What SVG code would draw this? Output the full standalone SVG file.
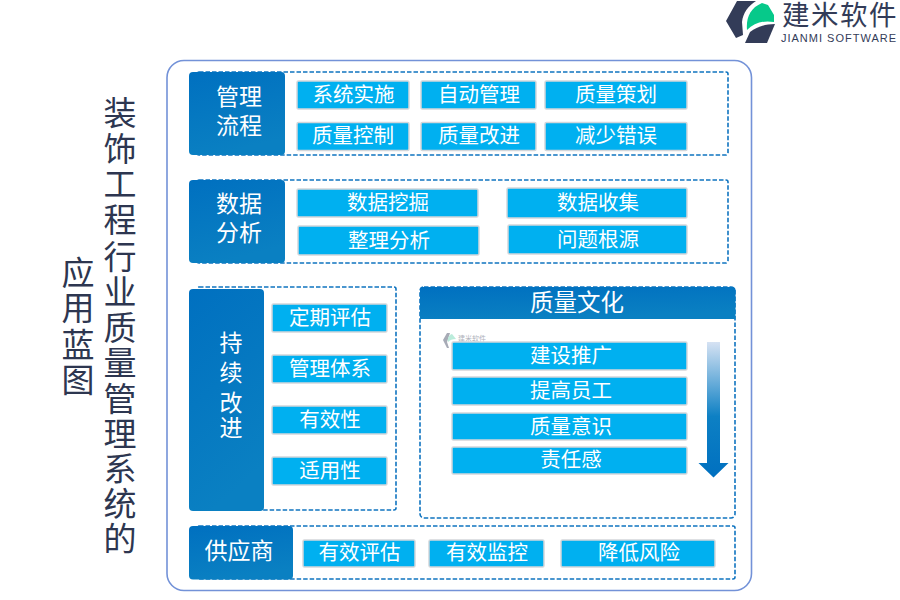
<svg xmlns="http://www.w3.org/2000/svg" width="900" height="600" viewBox="0 0 900 600">
<style>
text{font-family:"Liberation Serif","Noto Sans CJK SC",serif;text-anchor:middle}
.head{fill:url(#hg)}
.ht{fill:#fff;font-size:23px}
.frame{fill:none;stroke:#0f74c0;stroke-width:1.6;stroke-dasharray:4.5 2}
.item{fill:#00b0f0;stroke:#d3d6da;stroke-width:1.5}
.it{fill:#fff;font-size:20.5px}
.title{fill:#2d3650;font-size:33px}
</style>
<defs>
<linearGradient id="hg" x1="0" y1="0" x2="0.3" y2="1"><stop offset="0" stop-color="#0070c0"/><stop offset="1" stop-color="#0a80c2"/></linearGradient>
<linearGradient id="ag" x1="0" y1="0" x2="0" y2="1"><stop offset="0" stop-color="#d6e2f3"/><stop offset="0.55" stop-color="#0d80c4"/><stop offset="1" stop-color="#0070c0"/></linearGradient>
</defs>
<rect x="167" y="60.500" width="584.500" height="530" rx="17" fill="#fff" stroke="#7392d8" stroke-width="1.600"/>
<g id="title">
<text class="title" x="120" y="125">装</text><text class="title" x="120" y="161">饰</text><text class="title" x="120" y="196">工</text><text class="title" x="120" y="232">程</text><text class="title" x="120" y="269">行</text><text class="title" x="120" y="304">业</text><text class="title" x="120" y="340">质</text><text class="title" x="120" y="375">量</text><text class="title" x="120" y="411">管</text><text class="title" x="120" y="446">理</text><text class="title" x="120" y="481">系</text><text class="title" x="120" y="516">统</text><text class="title" x="120" y="551">的</text>
<text class="title" x="78" y="285">应</text><text class="title" x="78" y="320">用</text><text class="title" x="78" y="357">蓝</text><text class="title" x="78" y="392">图</text>
</g>
<g id="logo">
<path d="M737 1H756C748 6 743 13 742 22L743 35L736 38L726 21Z" fill="#333c58"/>
<path d="M745 43L750 32C757 27 765 24 775 24L767 43Z" fill="#333c58"/>
<path d="M747 30C746 18 750 8 762 3L768 5L774 15V22C763 20 754 23 747 30Z" fill="#06c98a"/>
<text x="840" y="25" style="font-family:'Liberation Sans','Noto Sans CJK SC',sans-serif;font-size:27.5px;letter-spacing:1.5px" fill="#333c58">建米软件</text>
<text x="839" y="42" style="font-family:'Liberation Sans',sans-serif;font-size:11px;letter-spacing:1px" fill="#333c58">JIANMI SOFTWARE</text>
</g>
<g id="group-process">
<rect class="frame" x="197" y="72" width="531" height="83" rx="2"/>
<rect class="head" x="189" y="72" width="96" height="83" rx="4"/>
<text class="ht" x="239" y="105">管理</text><text class="ht" x="239" y="134">流程</text>
</g>
<g id="item-1"><rect class="item" x="297" y="81" width="112" height="28" rx="1.500"/><text class="it" x="353.500" y="102">系统实施</text></g>
<g id="item-2"><rect class="item" x="421" y="81" width="115" height="28" rx="1.500"/><text class="it" x="479" y="102">自动管理</text></g>
<g id="item-3"><rect class="item" x="545" y="81" width="142" height="28" rx="1.500"/><text class="it" x="616" y="102">质量策划</text></g>
<g id="item-4"><rect class="item" x="297" y="122.500" width="112" height="28" rx="1.500"/><text class="it" x="353" y="143">质量控制</text></g>
<g id="item-5"><rect class="item" x="421" y="122.500" width="115" height="28" rx="1.500"/><text class="it" x="479" y="143">质量改进</text></g>
<g id="item-6"><rect class="item" x="545" y="122.500" width="142" height="28" rx="1.500"/><text class="it" x="616" y="143">减少错误</text></g>
<g id="group-data">
<rect class="frame" x="197" y="180" width="531" height="83" rx="2"/>
<rect class="head" x="189" y="180" width="96" height="83" rx="4"/>
<text class="ht" x="239" y="212">数据</text><text class="ht" x="239" y="241">分析</text>
</g>
<g id="item-7"><rect class="item" x="297" y="189" width="181" height="28" rx="1.500"/><text class="it" x="388" y="210">数据挖掘</text></g>
<g id="item-8"><rect class="item" x="507" y="188" width="180" height="30" rx="1.500"/><text class="it" x="598" y="210">数据收集</text></g>
<g id="item-9"><rect class="item" x="298" y="226" width="181" height="29" rx="1.500"/><text class="it" x="389" y="248">整理分析</text></g>
<g id="item-10"><rect class="item" x="508" y="225" width="179" height="29" rx="1.500"/><text class="it" x="598" y="247">问题根源</text></g>
<g id="group-improve">
<rect class="frame" x="197" y="287" width="199" height="223" rx="2"/>
<rect class="head" x="189" y="289" width="75" height="222" rx="4"/>
<text class="ht" x="231" y="351">持</text><text class="ht" x="231" y="381">续</text><text class="ht" x="231" y="411">改</text><text class="ht" x="231" y="436">进</text>
</g>
<g id="item-11"><rect class="item" x="272" y="304" width="115" height="28" rx="1.500"/><text class="it" x="330" y="325">定期评估</text></g>
<g id="item-12"><rect class="item" x="272" y="355" width="115" height="28" rx="1.500"/><text class="it" x="330" y="376">管理体系</text></g>
<g id="item-13"><rect class="item" x="272" y="406" width="115" height="28" rx="1.500"/><text class="it" x="330" y="427">有效性</text></g>
<g id="item-14"><rect class="item" x="272" y="457" width="115" height="28" rx="1.500"/><text class="it" x="330" y="478">适用性</text></g>
<g id="group-culture">
<rect class="frame" x="420" y="287" width="315" height="231" rx="4"/>
<path class="head" d="M423 287H732Q735.500 287 735.500 290V319H420V290Q420 287 423 287Z"/>
<text class="ht" style="font-size:23.5px" x="577" y="311">质量文化</text>
</g>
<g id="watermark" opacity="0.6">
<path d="M447 333H450L447 342L449 348H447L443 340Z" fill="#6d7486"/><path d="M448 342C447 338 450 334 452 334L456 339C452 339 450 340 448 342Z" fill="#8fe0c4"/>
<text x="472" y="340.500" style="font-family:'Noto Sans CJK SC',sans-serif;font-size:7px" fill="#7b8190">建米软件</text>
</g>
<g id="item-15"><rect class="item" x="452" y="342" width="235" height="28" rx="1.500"/><text class="it" x="571" y="363">建设推广</text></g>
<g id="item-16"><rect class="item" x="452" y="377" width="235" height="28" rx="1.500"/><text class="it" x="571" y="398">提高员工</text></g>
<g id="item-17"><rect class="item" x="452" y="413" width="235" height="27" rx="1.500"/><text class="it" x="571" y="434">质量意识</text></g>
<g id="item-18"><rect class="item" x="452" y="447" width="235" height="27" rx="1.500"/><text class="it" x="571" y="467">责任感</text></g>
<g id="connectors">
<path d="M707 342H720V463H728.500L713.500 477.500L698.500 463H707Z" fill="url(#ag)"/>
</g>
<g id="group-supplier">
<rect class="frame" x="197" y="526" width="538" height="53" rx="2"/>
<rect class="head" x="189" y="526" width="104" height="53.500" rx="4"/>
<text class="ht" x="239" y="559">供应商</text>
</g>
<g id="item-19"><rect class="item" x="303" y="540" width="112" height="27" rx="1.500"/><text class="it" x="359.500" y="560">有效评估</text></g>
<g id="item-20"><rect class="item" x="429" y="540" width="115" height="27" rx="1.500"/><text class="it" x="487" y="560">有效监控</text></g>
<g id="item-21"><rect class="item" x="561" y="540" width="154" height="27" rx="1.500"/><text class="it" x="639" y="560">降低风险</text></g>
</svg>
